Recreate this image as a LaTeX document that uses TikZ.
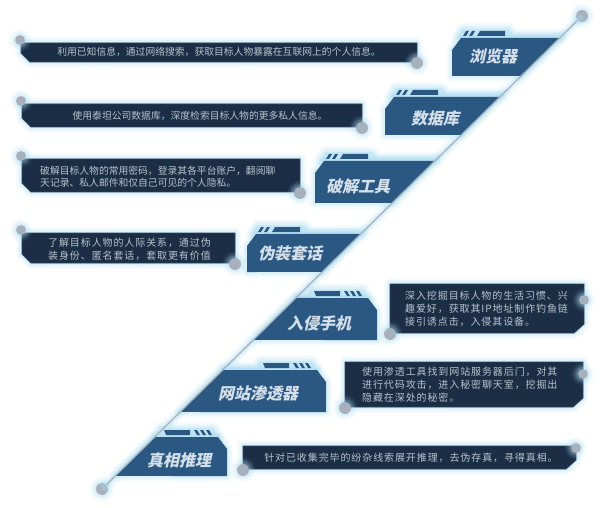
\documentclass[tikz,border=0pt]{standalone}
\usepackage{fontspec}
\setmainfont{Noto Sans CJK SC}
\newfontfamily\titlefont{Noto Sans CJK SC}[FakeSlant=0.22]
\newfontfamily\spacedfont{Noto Sans CJK SC}[LetterSpace=9]
\usetikzlibrary{calc}

\definecolor{tabblue}{HTML}{2B5883}
\definecolor{boxnavy}{HTML}{1B2E46}
\definecolor{boxedge}{HTML}{28425F}
\definecolor{glowblue}{HTML}{A9DCF2}
\definecolor{bandblue}{HTML}{C6E7F5}
\definecolor{dotgrey}{HTML}{A8B1BB}
\definecolor{infotext}{HTML}{B9C3CD}
\definecolor{titletext}{HTML}{D4DFEA}

\tikzset{
  glowing/.style={preaction={draw=glowblue,line width=13pt,opacity=.08,line join=round},
                  preaction={draw=glowblue,line width=9pt,opacity=.14,line join=round},
                  preaction={draw=glowblue,line width=5pt,opacity=.25,line join=round}},
  dot/.style={circle,fill=dotgrey,inner sep=0pt,minimum size=#1,glowing},
  dot/.default=11pt,
  info/.style={text=infotext,font=\fontsize{9.8}{12}\selectfont,align=left,inner sep=0pt},
  wideinfo/.style={info,font=\spacedfont\fontsize{10}{13}\selectfont},
  title/.style={text=titletext,font=\titlefont\bfseries\fontsize{16}{16}\selectfont,inner sep=0pt}
}

\begin{document}
\begin{tikzpicture}[x=1pt,y=-1pt]
\useasboundingbox (0,0) rectangle (600,508);

%end points of the slanted line
\node[dot=12pt] (top) at (582,16) {};
\node[dot=12pt] (bot) at (102,489) {};
\path[glowing] (top.center) -- (bot.center);

%tabs left of the line
\foreach \xo/\yt/\yb/\tx/\ty/\lbl/\nm in {452/38/76/493/56/浏览器/browser, 385/97/135/435/118/数据库/database, 315/161/203/358/186/破解工具/cracker, 247/234/272/290/253/伪装套话/disguise}{
  \fill[bandblue,glowing] (\xo+5,\yt) -- (\xo+10,\yt-9) -- (\xo+57,\yt-9) -- (\xo+62,\yt-3) -- ($(top)!{(\yt-19)/473}!(bot)$) -- ($(top)!{(\yt-16)/473}!(bot)$) -- cycle;
  \fill[tabblue,glowing] (\xo,\yb) -- (\xo,\yt+12) -- (\xo+9,\yt) -- ($(top)!{(\yt-16)/473}!(bot)$) -- ($(top)!{(\yb-16)/473}!(bot)$) -- cycle;
  \foreach \s in {0,6}
    \fill[tabblue] (\xo+11+\s,\yt-2) -- (\xo+14+\s,\yt-7) -- (\xo+17+\s,\yt-7) -- (\xo+14+\s,\yt-2) -- cycle;
  \fill[tabblue] (\xo+25,\yt-2) -- (\xo+28,\yt-7) -- (\xo+53,\yt-7) -- (\xo+53,\yt-2) -- cycle;
  \node[title] (\nm) at (\tx,\ty) {\lbl};
}

%tabs right of the line
\foreach \xr/\yt/\yb/\tx/\ty/\lbl/\nm in {377/298/340/319/323/入侵手机/phone, 326/370/412/258/393/网站渗透器/website, 227/437/476/179/460/真相推理/truth}{
  \fill[bandblue,glowing] ($(top)!{(\yt-16)/473}!(bot)$) -- ($(top)!{(\yt-19)/473}!(bot)$) -- (\xr-70,\yt-3) -- (\xr-66,\yt-9) -- (\xr-14,\yt-9) -- (\xr-8,\yt) -- cycle;
  \fill[tabblue,glowing] ($(top)!{(\yb-16)/473}!(bot)$) -- ($(top)!{(\yt-16)/473}!(bot)$) -- (\xr-9,\yt) -- (\xr,\yt+12) -- (\xr,\yb) -- cycle;
  \fill[tabblue] (\xr-63,\yt-7) -- (\xr-37,\yt-7) -- (\xr-37,\yt-2) -- (\xr-61,\yt-2) -- cycle;
  \foreach \s in {0,6,12}
    \fill[tabblue] (\xr-33+\s,\yt-7) -- (\xr-30+\s,\yt-7) -- (\xr-27+\s,\yt-2) -- (\xr-30+\s,\yt-2) -- cycle;
  \node[title] (\nm) at (\tx,\ty) {\lbl};
}

%the slanted line
\draw[dotgrey,line width=1.3pt] (top) -- (bot);

%boxes on the left
\foreach \xl/\xr/\yt/\yb/\nm in {21/417/43/62/browser, 22/362/104/127/database, 22/300/159/192/cracker, 22/235/233/263/disguise}{
  \fill[boxnavy,glowing,draw=boxedge,line width=.8pt] (\xl,\yt) -- (\xr,\yt) -- (\xr,\yb) -- (\xl+9,\yb) -- (\xl,\yb-9) -- cycle;
  \node[dot=10pt] (\nm-a) at (\xl-1,\yt-3) {};
  \node[dot=12pt] (\nm-b) at (\xr,\yb+1) {};
}

%boxes on the right
\foreach \xl/\xr/\yt/\yb/\yd/\nm in {390/584/284/333/300/phone, 345/583/362/407/374/website, 243/576/446/469/448/truth}{
  \fill[boxnavy,glowing,draw=boxedge,line width=.8pt] (\xl,\yt) -- (\xr,\yt) -- (\xr,\yb-9) -- (\xr-10,\yb) -- (\xl,\yb) -- cycle;
  \node[dot=10pt] (\nm-a) at (\xr,\yd) {};
  \node[dot=12pt] (\nm-b) at (\xl,\yb+1) {};
}

%texts
\node[info] (browser-text) at (219,52) {利用已知信息，通过网络搜索，获取目标人物暴露在互联网上的个人信息。};
\node[info] (database-text) at (200,116) {使用泰坦公司数据库，深度检索目标人物的更多私人信息。};
\node[info,anchor=west] (cracker-text) at (40,176.5) {破解目标人物的常用密码，登录其各平台账户，翻阅聊\\天记录、私人邮件和仅自己可见的个人隐私。};
\node[wideinfo,anchor=west] (disguise-text) at (48,249) {了解目标人物的人际关系，通过伪\\装身份、匿名套话，套取更有价值};
\node[wideinfo,anchor=west] (phone-text) at (405,309) {深入挖掘目标人物的生活习惯、兴\\趣爱好，获取其IP地址制作钓鱼链\\接引诱点击，入侵其设备。};
\node[wideinfo,anchor=west] (website-text) at (362,385) {使用渗透工具找到网站服务器后门，对其\\进行代码攻击，进入秘密聊天室，挖掘出\\隐藏在深处的秘密。};
\node[wideinfo] (truth-text) at (411,458) {针对已收集完毕的纷杂线索展开推理，去伪存真，寻得真相。};

\end{tikzpicture}
\end{document}
